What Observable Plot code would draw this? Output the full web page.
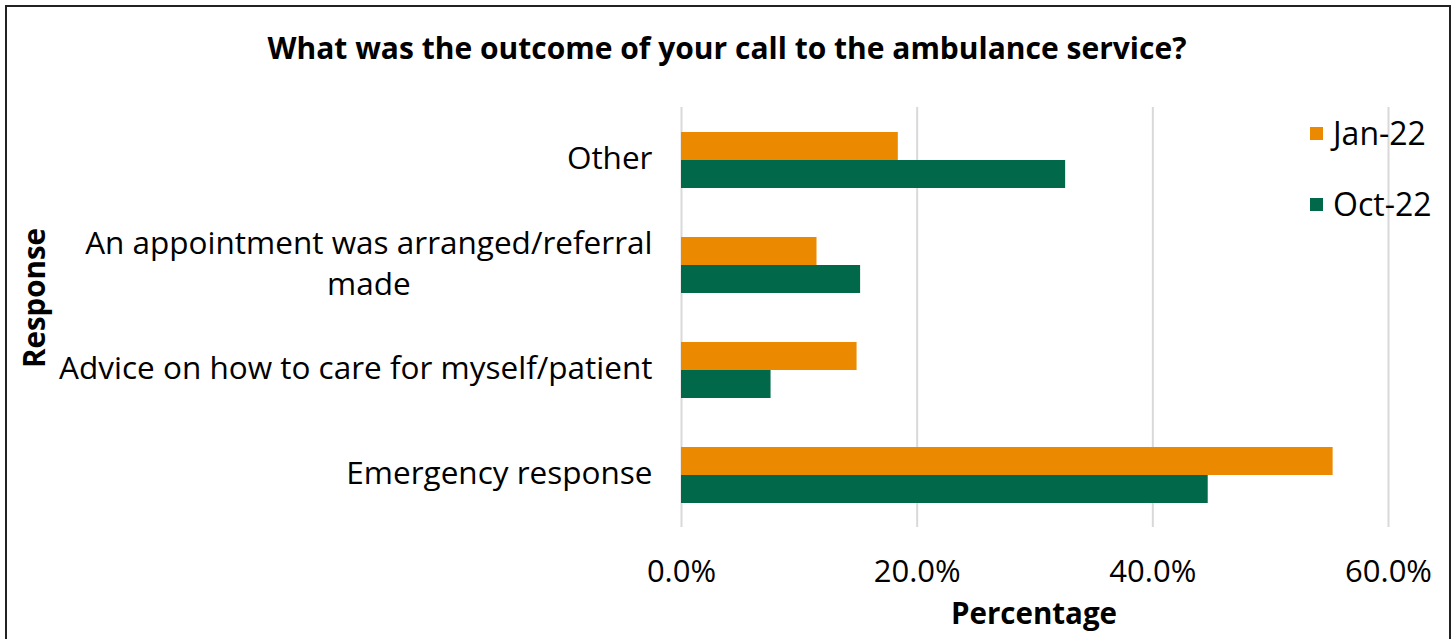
<!DOCTYPE html>
<html><head><meta charset="utf-8">
<script src="https://cdn.jsdelivr.net/npm/d3@7"></script>
<script src="https://cdn.jsdelivr.net/npm/@observablehq/plot@0.6"></script>
<style>
body{margin:0;background:#fff;font-family:"Open Sans",sans-serif;color:#000;}
#wrap{position:relative;width:1454px;height:639px;overflow:hidden;}
#chart{position:absolute;left:0;top:0;}
#frame{position:absolute;left:5px;top:5px;width:1446px;height:660px;border:2px solid #222;box-sizing:border-box;pointer-events:none;}
#title{position:absolute;left:0;width:1454px;top:27px;text-align:center;font-weight:bold;font-size:30px;line-height:42px;}
#ylab{position:absolute;left:33px;top:298px;transform:translate(-50%,-50%) rotate(-90deg);font-weight:bold;font-size:29.5px;white-space:nowrap;}
#xlab{position:absolute;left:1034px;top:612px;transform:translate(-50%,-50%);font-weight:bold;font-size:29.5px;white-space:nowrap;}
.leg{position:absolute;left:1310px;font-size:32px;line-height:40px;display:flex;align-items:center;white-space:nowrap;}
.leg span.sw{display:inline-block;width:13px;height:13px;margin-right:10px;}
</style>
</head><body>
<div id="wrap">
  <div id="chart"></div>
  <div id="title">What was the outcome of your call to the ambulance service?</div>
  <div id="ylab">Response</div>
  <div id="xlab">Percentage</div>
  <div id="legend"></div>
  <div id="frame"></div>
</div>
<script>
const categories = ["Other", "An appointment was arranged/referral\nmade", "Advice on how to care for myself/patient", "Emergency response"];
const seriesNames = ["Jan-22", "Oct-22"];
const jan22 = [18.4, 11.5, 14.9, 55.3];
const oct22 = [32.6, 15.2, 7.6, 44.7];
const seriesColors = ["#EB8A00", "#02684A"];
const xTicks = [0, 20, 40, 60];

const rows = categories.flatMap((c, i) => [
  {category: c, series: seriesNames[0], value: jan22[i]},
  {category: c, series: seriesNames[1], value: oct22[i]}
]);

const chart = Plot.plot({
  width: 1454, height: 639,
  marginLeft: 681, marginRight: 66, marginTop: 107, marginBottom: 112,
  style: {fontFamily: '"Open Sans", sans-serif', fontSize: "31px", color: "#000", background: "transparent", overflow: "visible"},
  x: {domain: [0, 60]},
  fy: {domain: categories, padding: 0},
  y: {domain: seriesNames, paddingInner: 0, paddingOuter: 0.875, axis: null},
  color: {domain: seriesNames, range: seriesColors},
  marks: [
    Plot.gridX(xTicks, {stroke: "#d9d9d9", strokeOpacity: 1, strokeWidth: 2}),
    Plot.barX(rows, {fy: "category", y: "series", x: "value", fill: "series"}),
    Plot.axisX(xTicks, {tickSize: 0, tickPadding: 32, tickFormat: d => d.toFixed(1) + "%", label: null, fontSize: 31}),
    Plot.axisFy({anchor: "left", tickSize: 0, tickPadding: 29, dy: -4, label: null, lineHeight: 1.3, fontSize: 31.5})
  ]
});
document.getElementById("chart").append(chart);

// center-align the multi-line category label like the original
chart.querySelectorAll('[aria-label="fy-axis tick label"] text').forEach(t => {
  if (t.querySelectorAll("tspan").length > 1) {
    const w = t.getBBox().width;
    t.setAttribute("text-anchor", "middle");
    t.setAttribute("transform", (t.getAttribute("transform") || "") + ` translate(${-w / 2},0)`);
  }
});

const legend = document.getElementById("legend");
seriesNames.forEach((s, i) => {
  const d = document.createElement("div");
  d.className = "leg";
  d.style.top = (113 + i * 71) + "px";
  d.innerHTML = `<span class="sw" style="background:${seriesColors[i]}"></span>${s}`;
  legend.append(d);
});
</script>
</body></html>
